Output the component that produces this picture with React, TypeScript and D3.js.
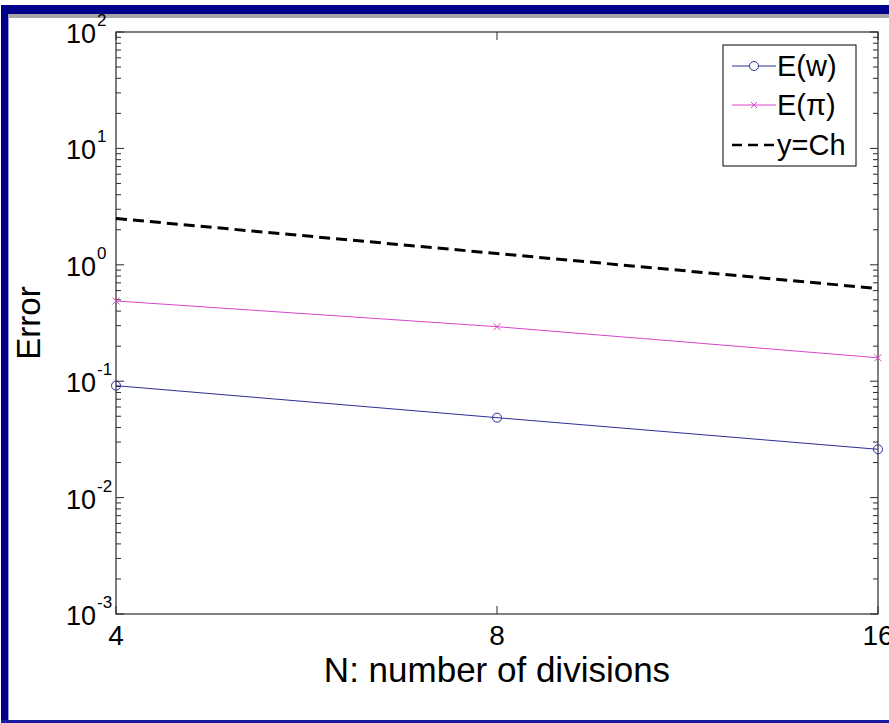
import React from "react";
import * as d3 from "d3";

const divisions = [4, 8, 16];
const errorW = [0.0915, 0.0486, 0.026];
const errorPi = [0.489, 0.294, 0.159];
const refCh = [2.5, 1.25, 0.625];
const xTickValues = [4, 8, 16];
const yDecades = [-3, -2, -1, 0, 1, 2];
const legendLabels = ["E(w)", "E(\u03c0)", "y=Ch"];

const W = 889;
const H = 723;
const FONT = "'Liberation Sans', Arial, Helvetica, sans-serif";

export default function App() {
  const x = d3.scaleLog().base(2).domain([4, 16]).range([116, 878]);
  const y = d3.scaleLog().domain([1e-3, 1e2]).range([614, 32]);
  const [x0, x1] = x.range();
  const [y0, y1] = y.range();

  const line = d3
    .line<[number, number]>()
    .x((d) => x(d[0]))
    .y((d) => y(d[1]));

  const ptsW = divisions.map((n, i) => [n, errorW[i]] as [number, number]);
  const ptsPi = divisions.map((n, i) => [n, errorPi[i]] as [number, number]);
  const ptsCh = divisions.map((n, i) => [n, refCh[i]] as [number, number]);

  const minor: number[] = [];
  for (let e = -3; e < 2; e++) for (let k = 2; k <= 9; k++) minor.push(k * Math.pow(10, e));

  const blue = "#2e2e96";
  const magenta = "#d845c8";
  const axisColor = "#2a2a2a";

  const xMark = (cx: number, cy: number, s: number, key: string) => (
    <g key={key} stroke={magenta} strokeWidth={1}>
      <line x1={cx - s} y1={cy - s} x2={cx + s} y2={cy + s} />
      <line x1={cx - s} y1={cy + s} x2={cx + s} y2={cy - s} />
    </g>
  );

  const legY = [66, 105, 145];

  return (
    <svg
      width={W}
      height={H}
      style={{ position: "absolute", left: 0, top: 0, background: "#fff" }}
      fontFamily={FONT}
    >
      <rect x={0} y={0} width={W} height={H} fill="#fff" />
      {/* window frame */}
      <rect x={1} y={5} width={W} height={9} fill="#00008a" />
      <rect x={8} y={14} width={W} height={4} fill="#a6a6a6" />
      <rect x={1} y={5} width={7} height={H} fill="#00008a" />
      <rect x={8} y={18} width={1} height={H} fill="#9a9ad6" />
      <rect x={1} y={720} width={W} height={3} fill="#1a1aa0" />

      {/* axes box */}
      <rect x={x0} y={y1} width={x1 - x0} height={y0 - y1} fill="none" stroke={axisColor} strokeWidth={1.2} />

      {/* y ticks */}
      {yDecades.map((e) => {
        const yy = y(Math.pow(10, e));
        return (
          <g key={"yt" + e} stroke={axisColor} strokeWidth={1}>
            <line x1={x0} x2={x0 + 8} y1={yy} y2={yy} />
            <line x1={x1} x2={x1 - 8} y1={yy} y2={yy} />
          </g>
        );
      })}
      {minor.map((v, i) => {
        const yy = y(v);
        return (
          <g key={"ym" + i} stroke={axisColor} strokeWidth={1}>
            <line x1={x0} x2={x0 + 5} y1={yy} y2={yy} />
            <line x1={x1} x2={x1 - 5} y1={yy} y2={yy} />
          </g>
        );
      })}
      {/* x ticks */}
      {xTickValues.map((v) => {
        const xx = x(v);
        return (
          <g key={"xt" + v} stroke={axisColor} strokeWidth={1}>
            <line x1={xx} x2={xx} y1={y0} y2={y0 - 8} />
            <line x1={xx} x2={xx} y1={y1} y2={y1 + 8} />
          </g>
        );
      })}

      {/* y tick labels */}
      {yDecades.map((e) => {
        const yy = y(Math.pow(10, e));
        return (
          <g key={"yl" + e} fill="#000">
            <text x={96} y={yy + 11} fontSize={27} textAnchor="end">10</text>
            <text x={97} y={yy - 6} fontSize={17} textAnchor="start">{String(e)}</text>
          </g>
        );
      })}
      {/* x tick labels */}
      {xTickValues.map((v) => (
        <text key={"xl" + v} x={x(v)} y={645} fontSize={28} textAnchor="middle" fill="#000">
          {v}
        </text>
      ))}

      {/* axis labels */}
      <text x={(x0 + x1) / 2} y={682} fontSize={35} textAnchor="middle" fill="#000">
        N: number of divisions
      </text>
      <text
        transform={`translate(40, ${(y0 + y1) / 2}) rotate(-90)`}
        fontSize={33}
        textAnchor="middle"
        fill="#000"
      >
        Error
      </text>

      {/* series */}
      <path d={line(ptsCh) || ""} fill="none" stroke="#000" strokeWidth={3} strokeDasharray="11,6" />
      <path d={line(ptsPi) || ""} fill="none" stroke={magenta} strokeWidth={1} />
      {ptsPi.map((p, i) => xMark(x(p[0]), y(p[1]), 3.5, "pm" + i))}
      <path d={line(ptsW) || ""} fill="none" stroke={blue} strokeWidth={1} />
      {ptsW.map((p, i) => (
        <circle key={"wm" + i} cx={x(p[0])} cy={y(p[1])} r={4.5} fill="none" stroke={blue} strokeWidth={1} />
      ))}

      {/* legend */}
      <rect x={723} y={45} width={133} height={121} fill="#fff" stroke="#000" strokeWidth={1} />
      <line x1={732} x2={776} y1={legY[0]} y2={legY[0]} stroke={blue} strokeWidth={1} />
      <circle cx={754} cy={legY[0]} r={4.5} fill="#fff" stroke={blue} strokeWidth={1} />
      <line x1={732} x2={776} y1={legY[1]} y2={legY[1]} stroke={magenta} strokeWidth={1} />
      {xMark(754, legY[1], 3, "legx")}
      <line x1={732} x2={776} y1={legY[2]} y2={legY[2]} stroke="#000" strokeWidth={2.5} strokeDasharray="10,6" />
      {legendLabels.map((t, i) => (
        <text key={"lg" + i} x={777} y={legY[i] + 10} fontSize={29} fill="#000">
          {t}
        </text>
      ))}
    </svg>
  );
}
